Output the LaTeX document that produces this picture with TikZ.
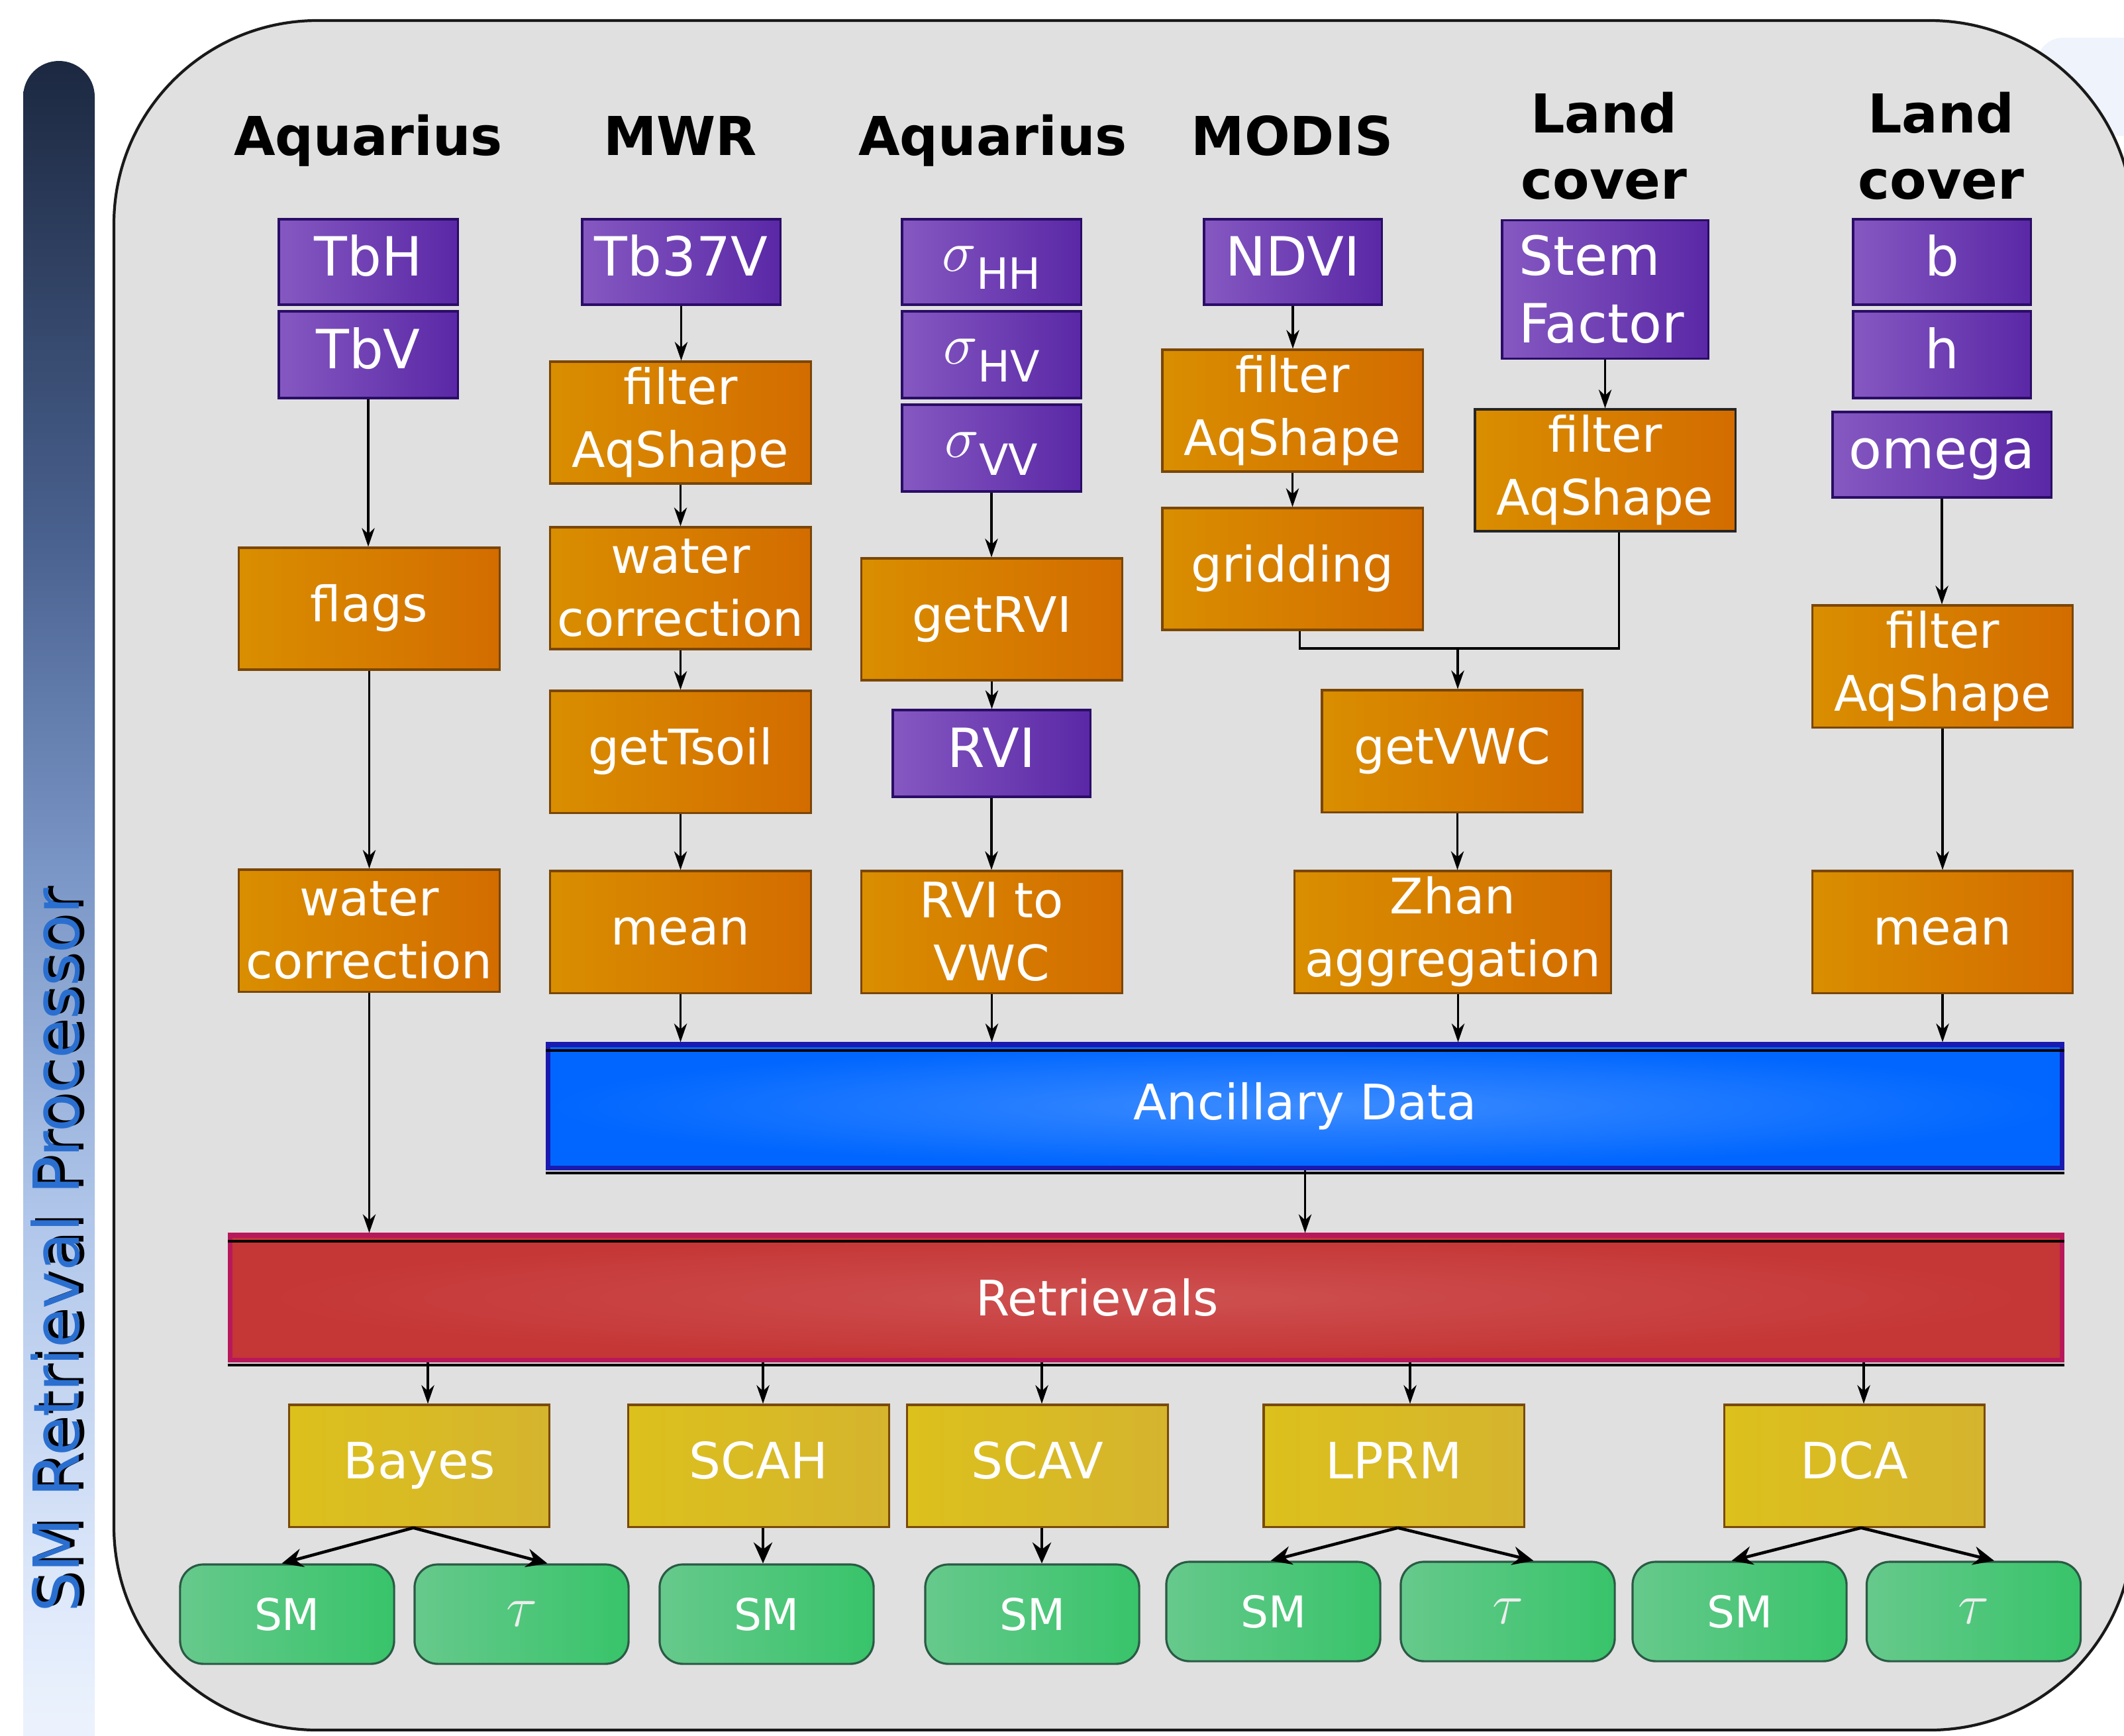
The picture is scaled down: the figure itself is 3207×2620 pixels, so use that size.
\documentclass[tikz,border=0pt]{standalone}
\usepackage{fontspec}
\setmainfont{DejaVu Sans}
\usetikzlibrary{arrows.meta}
\definecolor{pl}{HTML}{8558C1}
\definecolor{pr}{HTML}{5A28A6}
\definecolor{pbd}{HTML}{2A0D66}
\definecolor{ol}{HTML}{D98E00}
\definecolor{orr}{HTML}{D36C00}
\definecolor{obd}{HTML}{7A4606}
\definecolor{yl}{HTML}{DCC01C}
\definecolor{yr}{HTML}{D5B42E}
\definecolor{ybd}{HTML}{7A4A06}
\definecolor{gl}{HTML}{66C98C}
\definecolor{gr}{HTML}{38C46A}
\definecolor{gbd}{HTML}{2B5A45}
\definecolor{bgc}{HTML}{E0E0E0}
\definecolor{blin}{HTML}{3C8CFF}
\definecolor{blout}{HTML}{0066FF}
\definecolor{blbd}{HTML}{1A1AB0}
\definecolor{rdin}{HTML}{CE5050}
\definecolor{rdout}{HTML}{C53636}
\definecolor{rdbd}{HTML}{B8185A}
\definecolor{bartop}{HTML}{1C2840}
\definecolor{barup}{HTML}{4A6290}
\definecolor{barmid}{HTML}{7A96C6}
\definecolor{barlow}{HTML}{B0C6EA}
\definecolor{barlow2}{HTML}{E0EAFB}
\definecolor{barbot}{HTML}{EBF2FD}
\definecolor{bartxt}{HTML}{2A6FD0}
\definecolor{patchc}{HTML}{EEF3FC}
\pgfdeclareverticalshading{barshade}{100bp}{color(0bp)=(barbot); color(27bp)=(barbot); color(30bp)=(barlow2); color(41.5bp)=(barlow); color(51.6bp)=(barmid); color(61bp)=(barup); color(75bp)=(bartop); color(100bp)=(bartop)}
\newcommand{\sigmalab}[1]{{\fontsize{29}{29}\selectfont$\sigma$}\raisebox{-7.7pt}{\fontsize{18.5}{18.5}\selectfont #1}}
\newcommand{\taulab}{{\fontsize{40}{40}\selectfont$\tau$}}
\tikzset{
  boxbase/.style={rectangle, inner sep=0pt, text=white, align=center,
    font=\fontsize{21}{27}\selectfont},
  st/.style={text height=16pt, text depth=5pt},
  pst/.style={text height=17.5pt, text depth=5.5pt},
  pbox/.style={boxbase, draw=pbd, line width=0.9pt, left color=pl, right color=pr,
    font=\fontsize{23.2}{29}\selectfont},
  obox/.style={boxbase, draw=obd, line width=0.9pt, left color=ol, right color=orr,
    minimum width=3.93cm, minimum height=1.84cm},
  ybox/.style={boxbase, st, draw=ybd, line width=0.9pt, left color=yl, right color=yr,
    minimum width=3.93cm, minimum height=1.84cm, font=\fontsize{21.5}{27}\selectfont},
  gbox/.style={boxbase, draw=gbd, line width=0.9pt, left color=gl, right color=gr,
    rounded corners=0.35cm, minimum width=3.23cm, minimum height=1.50cm,
    font=\fontsize{18.8}{20}\selectfont},
  hdr/.style={inner sep=0pt, align=center, text=black,
    font=\bfseries\fontsize{23}{28.45}\selectfont},
  arr/.style={draw, line width=0.9pt, -{Stealth[length=8pt,width=5.5pt,inset=2.5pt]}},
  lnk/.style={draw, line width=0.9pt},
  fork/.style={draw, line width=1.3pt, -{Stealth[length=9pt,width=8pt,inset=3pt]}},
}
\begin{document}
\begin{tikzpicture}[x=0.01cm,y=-0.01cm]
\clip (0,0) rectangle (3207,2620);
\fill[white] (0,0) rectangle (3207,2620);
% left title bar
\shade[shading=barshade, rounded corners=0.54cm] (35,92) rectangle (143,2700);
\node[rotate=90, inner sep=0pt, text=black, font=\fontsize{27.3}{28}\selectfont]
  (bartitleshadow) at (91,1885) {SM Retrieval Processor};
\node[rotate=90, inner sep=0pt, text=bartxt, font=\fontsize{27.3}{28}\selectfont]
  (bartitle) at (84,1888) {SM Retrieval Processor};
% faint patch top right
\fill[patchc, rounded corners=0.4cm] (3075,57) rectangle (3350,205);
% main panel
\draw[line width=1.2pt, draw=black!90, fill=bgc, rounded corners=3.07cm]
  (172,31) rectangle (3221,2612);

% headers
\node[hdr, anchor=base] (hd1) at (556,234) {Aquarius};
\node[hdr, anchor=base] (hd2) at (1027,234) {MWR};
\node[hdr, anchor=base] (hd3) at (1499,234) {Aquarius};
\node[hdr, anchor=base] (hd4) at (1951,234) {MODIS};
\node[hdr] (hd5) at (2422,220) {Land\\cover};
\node[hdr] (hd6) at (2931,220) {Land\\cover};

% purple inputs
\node[pbox, pst, minimum width=2.70cm, minimum height=1.29cm] (tbh) at (556,395.5) {TbH};
\node[pbox, pst, minimum width=2.70cm, minimum height=1.31cm] (tbv) at (556,535.5) {TbV};
\node[pbox, pst, minimum width=2.99cm, minimum height=1.29cm] (tb37v) at (1028.5,395.5) {Tb37V};
\node[pbox, text height=13pt, text depth=5pt, minimum width=2.70cm, minimum height=1.29cm] (shh) at (1497,395.5) {\sigmalab{HH}};
\node[pbox, text height=13pt, text depth=5pt, minimum width=2.70cm, minimum height=1.31cm] (shv) at (1497,535.5) {\sigmalab{HV}};
\node[pbox, text height=13pt, text depth=5pt, minimum width=2.70cm, minimum height=1.31cm] (svv) at (1497,676.5) {\sigmalab{VV}};
\node[pbox, pst, minimum width=2.68cm, minimum height=1.29cm] (ndvi) at (1952,395.5) {NDVI};
\node[pbox, align=left, text width=2.60cm, minimum width=3.11cm, minimum height=2.09cm] (stem) at (2423.5,437) {Stem\\Factor};
\node[pbox, pst, minimum width=2.68cm, minimum height=1.29cm] (bpar) at (2932,395.5) {b};
\node[pbox, pst, minimum width=2.68cm, minimum height=1.31cm] (hpar) at (2932,535.5) {h};
\node[pbox, pst, minimum width=3.30cm, minimum height=1.29cm] (omega) at (2932,686.5) {omega};
\node[pbox, pst, minimum width=2.98cm, minimum height=1.31cm] (rvi) at (1497,1137.5) {RVI};

% orange processing boxes
\node[obox, st] (flags) at (557.5,919) {flags};
\node[obox] (wc1) at (557.5,1405) {water\\correction};
\node[obox] (filt2) at (1027.5,638) {filter\\AqShape};
\node[obox] (wc2) at (1027.5,888) {water\\correction};
\node[obox, st] (tsoil) at (1027.5,1135) {getTsoil};
\node[obox, st] (mean2) at (1027.5,1407) {mean};
\node[obox, st] (getrvi) at (1497.5,935) {getRVI};
\node[obox] (rvivwc) at (1497.5,1407) {RVI to\\VWC};
\node[obox] (filt4) at (1951.5,620) {filter\\AqShape};
\node[obox, st] (grid) at (1951.5,859) {gridding};
\node[obox, draw=black!85] (filt5) at (2423.5,710) {filter\\AqShape};
\node[obox, st] (getvwc) at (2192.5,1134) {getVWC};
\node[obox, minimum width=4.77cm] (zhan) at (2193.5,1407) {Zhan\\aggregation};
\node[obox] (filt6) at (2933,1006) {filter\\AqShape};
\node[obox, st] (mean6) at (2933,1407) {mean};

% ancillary data
\node[boxbase, draw=blbd, line width=2pt, inner color=blin, outer color=blout,
  minimum width=22.85cm, minimum height=1.86cm] (anc) at (1970.5,1670) {Ancillary Data};
\draw[black, line width=1.2pt] ([yshift=-3.5pt]anc.north west) -- ([yshift=-3.5pt]anc.north east);
\draw[black, line width=1.2pt] ([yshift=-1.2pt]anc.south west) -- ([yshift=-1.2pt]anc.south east);

% retrievals
\node[rectangle, inner sep=0pt, draw=rdbd, line width=2pt, inner color=rdin, outer color=rdout,
  minimum width=27.65cm, minimum height=1.88cm] (ret) at (1730.5,1959) {};
\draw[black, line width=1.2pt] ([yshift=-3.5pt]ret.north west) -- ([yshift=-3.5pt]ret.north east);
\draw[black, line width=1.2pt] ([yshift=-1.2pt]ret.south west) -- ([yshift=-1.2pt]ret.south east);
\node[boxbase] (retlbl) at (1657,1959) {Retrievals};

% methods
\node[ybox] (bayes) at (633,2213) {Bayes};
\node[ybox] (scah) at (1145.5,2213) {SCAH};
\node[ybox] (scav) at (1566.5,2213) {SCAV};
\node[ybox] (lprm) at (2104.5,2213) {LPRM};
\node[ybox] (dca) at (2800,2213) {DCA};

% outputs
\node[gbox] (sm1) at (433.5,2437) {SM};
\node[gbox, text=white!93!black] (tau1) at (787.5,2437) {\taulab};
\node[gbox] (sm2) at (1157.5,2437) {SM};
\node[gbox] (sm3) at (1558.5,2437) {SM};
\node[gbox] (sm4) at (1922.5,2433) {SM};
\node[gbox, text=white!93!black] (tau2) at (2276.5,2433) {\taulab};
\node[gbox] (sm5) at (2626.5,2433) {SM};
\node[gbox, text=white!93!black] (tau3) at (2980,2433) {\taulab};

% column connectors
\draw[arr] (tbv.south) -- (tbv.south |- flags.north);
\draw[arr] (flags.south) -- (flags.south |- wc1.north);
\draw[arr] (wc1.south) -- (wc1.south |- ret.north);

\draw[arr] (tb37v.south) -- (tb37v.south |- filt2.north);
\draw[arr] (filt2.south) -- (filt2.south |- wc2.north);
\draw[arr] (wc2.south) -- (wc2.south |- tsoil.north);
\draw[arr] (tsoil.south) -- (tsoil.south |- mean2.north);
\draw[arr] (mean2.south) -- (mean2.south |- anc.north);

\draw[arr] (svv.south) -- (svv.south |- getrvi.north);
\draw[arr] (getrvi.south) -- (getrvi.south |- rvi.north);
\draw[arr] (rvi.south) -- (rvi.south |- rvivwc.north);
\draw[arr] (rvivwc.south) -- (rvivwc.south |- anc.north);

\draw[arr] (ndvi.south) -- (ndvi.south |- filt4.north);
\draw[arr] (filt4.south) -- (filt4.south |- grid.north);
\draw[arr] (stem.south) -- (stem.south |- filt5.north);

\coordinate (gq) at ([xshift=0.11cm]grid.south);
\coordinate (fq) at ([xshift=0.21cm]filt5.south);
\coordinate (jn) at (2201,979);
\draw[lnk] (gq) |- (jn) -| (fq);
\draw[arr] (jn) -- (jn |- getvwc.north);
\draw[arr] ([xshift=0.08cm]getvwc.south) -- ([xshift=0.08cm]getvwc.south |- zhan.north);
\draw[arr] ([xshift=0.08cm]zhan.south) -- ([xshift=0.08cm]zhan.south |- anc.north);

\draw[arr] (omega.south) -- (omega.south |- filt6.north);
\draw[arr] (filt6.south) -- (filt6.south |- mean6.north);
\draw[arr] (mean6.south) -- (mean6.south |- anc.north);

\draw[arr] (anc.south) -- (anc.south |- ret.north);

% retrievals to methods
\coordinate (cb) at ([xshift=0.13cm]bayes.north);
\coordinate (cs1) at ([xshift=0.065cm]scah.north);
\coordinate (cs2) at ([xshift=0.065cm]scav.north);
\coordinate (cl) at ([xshift=0.245cm]lprm.north);
\coordinate (cd) at ([xshift=0.14cm]dca.north);
\draw[arr] (cb |- ret.south) -- (cb);
\draw[arr] (cs1 |- ret.south) -- (cs1);
\draw[arr] (cs2 |- ret.south) -- (cs2);
\draw[arr] (cl |- ret.south) -- (cl);
\draw[arr] (cd |- ret.south) -- (cd);

% methods to outputs
\coordinate (fb) at ([xshift=-0.09cm]bayes.south);
\coordinate (fl) at ([xshift=0.06cm]lprm.south);
\coordinate (fd) at ([xshift=0.1cm]dca.south);
\draw[fork] (fb) -- ([xshift=-0.08cm]sm1.north);
\draw[fork] (fb) -- ([xshift=0.39cm]tau1.north);
\draw[fork] (fl) -- ([xshift=-0.04cm]sm4.north);
\draw[fork] (fl) -- ([xshift=0.39cm]tau2.north);
\draw[fork] (fd) -- ([xshift=-0.12cm]sm5.north);
\draw[fork] (fd) -- ([xshift=0.31cm]tau3.north);
\coordinate (ss1) at ([xshift=0.065cm]scah.south);
\coordinate (ss2) at ([xshift=0.065cm]scav.south);
\draw[fork] (ss1) -- (ss1 |- sm2.north);
\draw[fork] (ss2) -- (ss2 |- sm3.north);
\end{tikzpicture}
\end{document}
